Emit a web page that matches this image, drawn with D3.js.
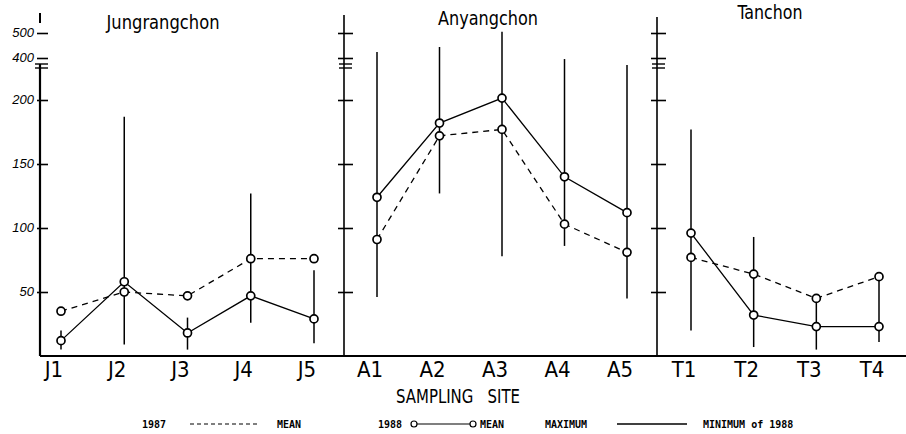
<!DOCTYPE html>
<html>
<head>
<meta charset="utf-8">
<script src="https://cdn.jsdelivr.net/npm/d3@7"></script>
<style>
  body { margin: 0; background: #fff; }
  svg { display: block; background: #fff; }
  .narrow { font-family: "Liberation Sans Narrow", "DejaVu Sans Condensed", "Liberation Sans", sans-serif; fill: #000; }
  .legend text { font-family: "DejaVu Sans Mono", "Liberation Mono", monospace; font-weight: bold; font-size: 10px; fill: #000; }
</style>
</head>
<body>
<svg width="906" height="434"></svg>
<script>
const rivers = ['Jungrangchon', 'Anyangchon', 'Tanchon'];
const sites = [
  ['J1', 'J2', 'J3', 'J4', 'J5'],
  ['A1', 'A2', 'A3', 'A4', 'A5'],
  ['T1', 'T2', 'T3', 'T4']
];
const mean1987 = [
  [35, 50, 47, 76, 76],
  [91, 172, 177, 103, 81],
  [77, 64, 45, 62]
];
const mean1988 = [
  [12, 58, 18, 47, 29],
  [124, 182, 209, 140, 112],
  [96, 32, 23, 23]
];
const max1988 = [
  [20, 187, 30, 127, 67],
  [424, 444, 505, 395, 367],
  [177, 93, 45, 62]
];
const min1988 = [
  [5, 9, 5, 26, 10],
  [46, 127, 78, 86, 45],
  [20, 7, 5, 11]
];
const yTicks = [50, 100, 150, 200, 400, 500];

const svg = d3.select('svg');

// broken axis: 0-200 linear, squeezed above 200
const y = d3.scaleLinear()
    .domain([0, 200, 400, 500])
    .range([356, 100, 58, 33]);

const axisX = [40, 344, 657];
const axisTop = [13, 15, 17];
const siteRange = [[61, 314], [377, 627], [691, 879]];
const titleX = [163, 488, 770];
const titleY = [29, 25, 19];
const titleW = [113, 100, 65];

// baseline
svg.append('line')
    .attr('x1', axisX[0]).attr('x2', 906)
    .attr('y1', y(0)).attr('y2', y(0))
    .attr('stroke', '#000').attr('stroke-width', 2);

rivers.forEach((river, i) => {
  const x = d3.scalePoint()
      .domain(sites[i])
      .range(siteRange[i]);

  // vertical axis line
  if (i === 0) {
    svg.append('line')
        .attr('x1', axisX[i]).attr('x2', axisX[i])
        .attr('y1', axisTop[i]).attr('y2', 23)
        .attr('stroke', '#000').attr('stroke-width', 2);
    svg.append('line')
        .attr('x1', axisX[i]).attr('x2', axisX[i])
        .attr('y1', y(400) + 6).attr('y2', y(0))
        .attr('stroke', '#000').attr('stroke-width', 2.2);
  } else {
    svg.append('line')
        .attr('x1', axisX[i]).attr('x2', axisX[i])
        .attr('y1', axisTop[i]).attr('y2', y(0))
        .attr('stroke', '#000').attr('stroke-width', 1.6);
  }

  const yAxis = d3.axisRight(y)
      .tickValues(yTicks)
      .tickSize(9)
      .tickFormat('');
  const axisG = svg.append('g')
      .attr('transform', `translate(${axisX[i]}, 0)`)
      .call(yAxis);
  axisG.select('.domain').remove();
  axisG.selectAll('.tick line')
      .attr('x1', i === 0 ? -3 : -6)
      .attr('x2', i === 0 ? 8 : 9)
      .attr('stroke', '#000')
      .attr('stroke-width', 1.6);

  // break marks
  [6, 10].forEach(off => {
    svg.append('line')
        .attr('x1', axisX[i] - 5).attr('x2', axisX[i] + 8)
        .attr('y1', y(400) + off).attr('y2', y(400) + off)
        .attr('stroke', '#000').attr('stroke-width', 1.4);
  });

  if (i === 0) {
    svg.append('g').selectAll('text')
        .data(yTicks)
        .join('text')
        .attr('x', axisX[i] - 6)
        .attr('y', d => y(d) + 4)
        .attr('text-anchor', 'end')
        .attr('font-family', 'Liberation Sans, sans-serif')
        .attr('font-style', 'italic')
        .attr('font-size', 13)
        .attr('fill', '#000')
        .text(d => d);
  }

  // title
  svg.append('text')
      .attr('class', 'narrow')
      .attr('x', titleX[i] - titleW[i] / 2)
      .attr('y', titleY[i])
      .attr('font-size', 19)
      .attr('textLength', titleW[i])
      .attr('lengthAdjust', 'spacingAndGlyphs')
      .text(river);

  // site labels
  svg.append('g').selectAll('text')
      .data(sites[i])
      .join('text')
      .attr('class', 'narrow')
      .attr('x', d => x(d) - 7)
      .attr('y', 377)
      .attr('text-anchor', 'middle')
      .attr('font-size', 22)
      .text(d => d);

  // 1988 range (min-max)
  svg.append('g').selectAll('line')
      .data(sites[i])
      .join('line')
      .attr('x1', d => x(d)).attr('x2', d => x(d))
      .attr('y1', (d, j) => y(max1988[i][j]))
      .attr('y2', (d, j) => y(min1988[i][j]))
      .attr('stroke', '#000')
      .attr('stroke-width', 1.5);

  const line = d3.line()
      .x((d, j) => x(sites[i][j]))
      .y(d => y(d));

  svg.append('path')
      .attr('d', line(mean1987[i]))
      .attr('fill', 'none')
      .attr('stroke', '#000')
      .attr('stroke-width', 1.3)
      .attr('stroke-dasharray', '6,5');

  svg.append('path')
      .attr('d', line(mean1988[i]))
      .attr('fill', 'none')
      .attr('stroke', '#000')
      .attr('stroke-width', 1.3);

  [mean1987[i], mean1988[i]].forEach(vals => {
    svg.append('g').selectAll('circle')
        .data(vals)
        .join('circle')
        .attr('cx', (d, j) => x(sites[i][j]))
        .attr('cy', d => y(d))
        .attr('r', 4)
        .attr('fill', '#fff')
        .attr('stroke', '#000')
        .attr('stroke-width', 1.7);
  });
});

// x axis title
svg.append('text')
    .attr('class', 'narrow')
    .attr('x', 458)
    .attr('y', 403)
    .attr('text-anchor', 'middle')
    .attr('font-size', 20)
    .attr('textLength', 124)
    .attr('lengthAdjust', 'spacingAndGlyphs')
    .style('white-space', 'pre')
    .text('SAMPLING   SITE');

// legend
const legend = svg.append('g').attr('class', 'legend');
const ly = 428;
legend.append('text').attr('x', 142).attr('y', ly).text('1987');
legend.append('line')
    .attr('x1', 190).attr('x2', 258).attr('y1', ly - 4).attr('y2', ly - 4)
    .attr('stroke', '#000').attr('stroke-width', 1.2).attr('stroke-dasharray', '4,3');
legend.append('text').attr('x', 277).attr('y', ly).text('MEAN');
legend.append('text').attr('x', 378).attr('y', ly).text('1988');
legend.append('circle')
    .attr('cx', 414).attr('cy', ly - 4).attr('r', 3)
    .attr('fill', '#fff').attr('stroke', '#000').attr('stroke-width', 1.2);
legend.append('line')
    .attr('x1', 417).attr('x2', 470).attr('y1', ly - 4).attr('y2', ly - 4)
    .attr('stroke', '#000').attr('stroke-width', 1.2);
legend.append('circle')
    .attr('cx', 473).attr('cy', ly - 4).attr('r', 3)
    .attr('fill', '#fff').attr('stroke', '#000').attr('stroke-width', 1.2);
legend.append('text').attr('x', 480).attr('y', ly).text('MEAN');
legend.append('text').attr('x', 545).attr('y', ly).text('MAXIMUM');
legend.append('line')
    .attr('x1', 617).attr('x2', 687).attr('y1', ly - 4).attr('y2', ly - 4)
    .attr('stroke', '#000').attr('stroke-width', 1.6);
legend.append('text').attr('x', 703).attr('y', ly).text('MINIMUM of 1988');
</script>
</body>
</html>
